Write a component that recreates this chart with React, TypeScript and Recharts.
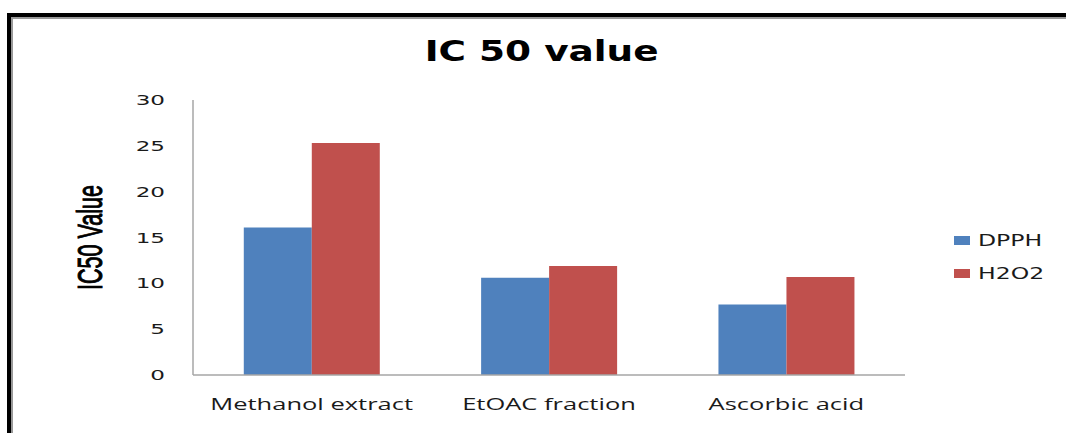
import { BarChart, Bar, XAxis, YAxis, Label } from 'recharts';

const categories = ['Methanol extract', 'EtOAC fraction', 'Ascorbic acid'];
const dpph = [16.1, 10.6, 7.7];
const h2o2 = [25.3, 11.9, 10.7];
const yTicks = [0, 5, 10, 15, 20, 25, 30];

const series = [
  { key: 'DPPH', values: dpph, color: '#4F81BD' },
  { key: 'H2O2', values: h2o2, color: '#C0504D' },
];

const data = categories.map((name, i) => ({ name, DPPH: dpph[i], H2O2: h2o2[i] }));

const YTick = (props: any) => {
  const { x, y, payload } = props;
  return (
    <g transform={`translate(${x - 28},${y}) scale(1.65,1)`}>
      <text
        x={0}
        y={0}
        dy={5}
        textAnchor="end"
        fontFamily="DejaVu Sans, Verdana, sans-serif"
        fontSize={14}
        fill="#1a1a1a"
      >
        {payload.value}
      </text>
    </g>
  );
};

const XTick = (props: any) => {
  const { x, y, payload } = props;
  return (
    <g transform={`translate(${x},${y + 35}) scale(1.5,1)`}>
      <text x={0} y={0} textAnchor="middle" fontFamily="Open Sans, sans-serif" fontSize={17} fill="#1a1a1a">
        {payload.value}
      </text>
    </g>
  );
};

// rotated axis title, stretched like the rest of the picture
const YLabel = (props: any) => {
  const { viewBox } = props;
  const cy = viewBox.y + viewBox.height / 2;
  return (
    <g transform={`translate(${90},${cy}) scale(1.45,0.9) rotate(-90)`}>
      <text
        x={0}
        y={0}
        dy={8}
        textAnchor="middle"
        fontFamily="Liberation Sans, Arial, sans-serif"
        fontSize={24}
        fill="#000"
        stroke="#000"
        strokeWidth={0.7}
      >
        IC50 Value
      </text>
    </g>
  );
};

const App = () => {
  return (
    <div style={{ position: 'fixed', left: 0, top: 0, width: 1066, height: 433, overflow: 'hidden', background: '#fff' }}>
      <div
        style={{
          position: 'absolute',
          left: 7,
          top: 13,
          width: 1120,
          height: 480,
          border: '4px solid #000',
          boxSizing: 'border-box',
        }}
      >
        <div style={{ width: '100%', height: '100%', borderTop: '2px solid #999', borderLeft: '2px solid #999', boxSizing: 'border-box' }} />
      </div>

      <div
        style={{
          position: 'absolute',
          left: 0,
          width: 1083,
          top: 31,
          textAlign: 'center',
          fontFamily: 'DejaVu Sans, Verdana, sans-serif',
          fontWeight: 'bold',
          fontSize: 29,
          lineHeight: '40px',
          color: '#000',
          transform: 'scale(1.29,1)',
          transformOrigin: '541px 0',
        }}
      >
        IC 50 value
      </div>

      <div style={{ position: 'absolute', left: 0, top: 0 }}>
        <BarChart
          width={1066}
          height={433}
          data={data}
          margin={{ top: 100, right: 161, left: 0, bottom: 0 }}
          barCategoryGap="21.4%"
          barGap={0}
        >
          <XAxis
            dataKey="name"
            height={58}
            tickLine={false}
            tickSize={0}
            tickMargin={0}
            axisLine={{ stroke: '#a6a6a6', strokeWidth: 1.5 }}
            tick={<XTick />}
          />
          <YAxis
            width={193}
            domain={[0, 30]}
            ticks={yTicks}
            tickLine={false}
            tickSize={0}
            tickMargin={0}
            axisLine={{ stroke: '#a6a6a6', strokeWidth: 1.5 }}
            tick={<YTick />}
          >
            <Label content={<YLabel />} />
          </YAxis>
          {series.map((s) => (
            <Bar key={s.key} dataKey={s.key} fill={s.color} isAnimationActive={false} />
          ))}
        </BarChart>
      </div>

      <div style={{ position: 'absolute', left: 954, top: 228 }}>
        {series.map((s) => (
          <div key={s.key} style={{ display: 'flex', alignItems: 'center', height: 24, marginBottom: 9 }}>
            <div style={{ width: 16, height: 9, background: s.color }} />
            <span
              style={{
                marginLeft: 8,
                fontFamily: 'DejaVu Sans, Verdana, sans-serif',
                fontSize: 16,
                color: '#1a1a1a',
                transform: 'scale(1.47,1)',
                transformOrigin: '0 50%',
                display: 'inline-block',
              }}
            >
              {s.key}
            </span>
          </div>
        ))}
      </div>
    </div>
  );
};

export default App;
